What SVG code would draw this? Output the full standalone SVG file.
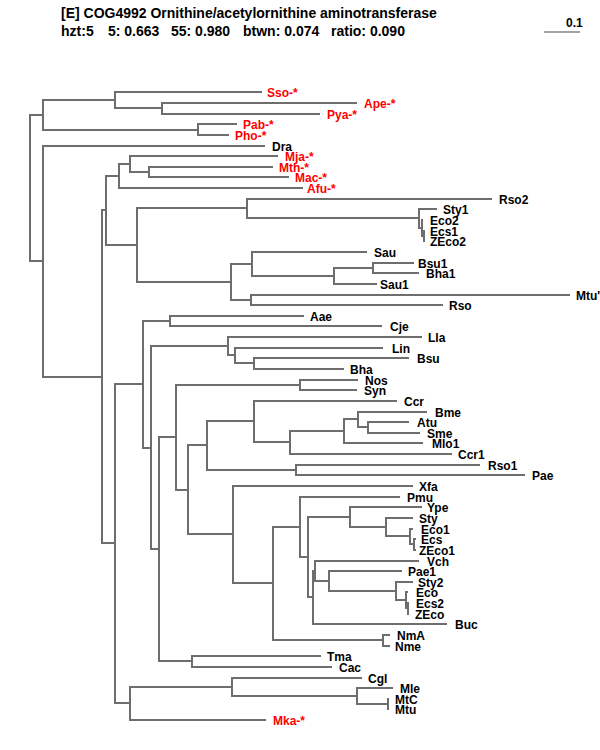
<svg xmlns="http://www.w3.org/2000/svg" width="600" height="750" viewBox="0 0 600 750">
<style>
text{font-family:"Liberation Sans",Arial,Helvetica,sans-serif;font-weight:bold;font-size:12px;fill:#000}
.h{font-size:14px}
.r{fill:#ff0000}
#connectors path{fill:none;stroke:#6e6e6e;stroke-width:2}
</style>
<rect width="600" height="750" fill="#fff"/>
<g id="header">
<text class="h" x="61" y="18">[E] COG4992 Ornithine/acetylornithine aminotransferase</text>
<text class="h" x="61" y="36">hzt:5</text>
<text class="h" x="108" y="36">5: 0.663</text>
<text class="h" x="171" y="36">55: 0.980</text>
<text class="h" x="243" y="36">btwn: 0.074</text>
<text class="h" x="331" y="36">ratio: 0.090</text>
</g>
<g id="scalebar">
<text x="566" y="27">0.1</text>
<path d="M544 32 H580" stroke="#444" stroke-width="1.2" fill="none"/>
</g>
<g id="connectors">
<path d="M43 115 H30 V261 H43"/>
<path d="M115 100 H43 V130 H198"/>
<path d="M262 92 H115 V108 H162"/>
<path d="M357 103 H162 V114 H320"/>
<path d="M237 124 H198 V135 H229"/>
<path d="M265 146 H43 V377 H102"/>
<path d="M106 210 H102 V543 H115"/>
<path d="M119 176 H106 V245 H137"/>
<path d="M130 164 H119 V188 H303"/>
<path d="M278 156 H130 V172 H149"/>
<path d="M273 167 H149 V177 H289"/>
<path d="M247 208 H137 V282 H231"/>
<path d="M492 199 H247 V218 H419"/>
<path d="M437 209 H419 V228 H422"/>
<path d="M423 220 H422 V236 H424"/>
<path d="M425 231 H424 V241 H425"/>
<path d="M252 264 H231 V300 H251"/>
<path d="M367 252 H252 V276 H334"/>
<path d="M373 268 H334 V284 H377"/>
<path d="M414 263 H373 V273 H419"/>
<path d="M570 295 H251 V305 H443"/>
<path d="M143 384 H115 V703 H130"/>
<path d="M170 321 H143 V448 H151"/>
<path d="M304 316 H170 V326 H382"/>
<path d="M228 346 H151 V549 H159"/>
<path d="M422 337 H228 V355 H235"/>
<path d="M383 348 H235 V363 H254"/>
<path d="M409 358 H254 V369 H344"/>
<path d="M176 437 H159 V661 H192"/>
<path d="M321 656 H192 V667 H332"/>
<path d="M300 385 H176 V490 H188"/>
<path d="M358 380 H300 V390 H357"/>
<path d="M207 445 H188 V534 H233"/>
<path d="M254 421 H207 V470 H296"/>
<path d="M397 401 H254 V442 H290"/>
<path d="M344 431 H290 V454 H452"/>
<path d="M358 419 H344 V443 H423"/>
<path d="M427 412 H358 V427 H368"/>
<path d="M409 422 H368 V433 H420"/>
<path d="M480 465 H296 V475 H525"/>
<path d="M413 486 H233 V583 H273"/>
<path d="M300 527 H273 V640 H383"/>
<path d="M390 635 H383 V646 H390"/>
<path d="M400 497 H300 V557 H308"/>
<path d="M350 517 H308 V597 H313"/>
<path d="M422 507 H350 V527 H386"/>
<path d="M413 518 H386 V536 H410"/>
<path d="M413 529 H410 V544 H414"/>
<path d="M416 539 H414 V550 H416"/>
<path d="M315 571 H313 V624 H447"/>
<path d="M419 561 H315 V581 H329"/>
<path d="M402 571 H329 V591 H396"/>
<path d="M413 582 H396 V600 H406"/>
<path d="M408 592 H406 V608 H408"/>
<path d="M409 603 H408 V614 H409"/>
<path d="M232 687 H130 V720 H266"/>
<path d="M362 678 H232 V696 H357"/>
<path d="M393 688 H357 V704 H388"/>
<path d="M389 699 H388 V709 H389"/>
</g>
<g id="leaf-Sso"><text class="r" x="267" y="97">Sso-*</text></g>
<g id="leaf-Ape"><text class="r" x="364" y="108">Ape-*</text></g>
<g id="leaf-Pya"><text class="r" x="327" y="119">Pya-*</text></g>
<g id="leaf-Pab"><text class="r" x="243" y="129">Pab-*</text></g>
<g id="leaf-Pho"><text class="r" x="235" y="140">Pho-*</text></g>
<g id="leaf-Dra"><text x="272" y="151">Dra</text></g>
<g id="leaf-Mja"><text class="r" x="285" y="161">Mja-*</text></g>
<g id="leaf-Mth"><text class="r" x="279" y="172">Mth-*</text></g>
<g id="leaf-Mac"><text class="r" x="295" y="182">Mac-*</text></g>
<g id="leaf-Afu"><text class="r" x="307" y="193">Afu-*</text></g>
<g id="leaf-Rso2"><text x="499" y="204">Rso2</text></g>
<g id="leaf-Sty1"><text x="443" y="214">Sty1</text></g>
<g id="leaf-Eco2"><text x="430" y="225">Eco2</text></g>
<g id="leaf-Ecs1"><text x="430" y="236">Ecs1</text></g>
<g id="leaf-ZEco2"><text x="430" y="246">ZEco2</text></g>
<g id="leaf-Sau"><text x="374" y="257">Sau</text></g>
<g id="leaf-Bsu1"><text x="418" y="268">Bsu1</text></g>
<g id="leaf-Bha1"><text x="426" y="278">Bha1</text></g>
<g id="leaf-Sau1"><text x="380" y="289">Sau1</text></g>
<g id="leaf-Mtu1"><text x="576" y="300">Mtu'</text></g>
<g id="leaf-Rso"><text x="449" y="310">Rso</text></g>
<g id="leaf-Aae"><text x="310" y="321">Aae</text></g>
<g id="leaf-Cje"><text x="390" y="331">Cje</text></g>
<g id="leaf-Lla"><text x="428" y="342">Lla</text></g>
<g id="leaf-Lin"><text x="392" y="353">Lin</text></g>
<g id="leaf-Bsu"><text x="417" y="363">Bsu</text></g>
<g id="leaf-Bha"><text x="350" y="374">Bha</text></g>
<g id="leaf-Nos"><text x="365" y="385">Nos</text></g>
<g id="leaf-Syn"><text x="364" y="395">Syn</text></g>
<g id="leaf-Ccr"><text x="404" y="406">Ccr</text></g>
<g id="leaf-Bme"><text x="435" y="417">Bme</text></g>
<g id="leaf-Atu"><text x="417" y="427">Atu</text></g>
<g id="leaf-Sme"><text x="427" y="438">Sme</text></g>
<g id="leaf-Mlo1"><text x="432" y="448">Mlo1</text></g>
<g id="leaf-Ccr1"><text x="458" y="459">Ccr1</text></g>
<g id="leaf-Rso1"><text x="488" y="470">Rso1</text></g>
<g id="leaf-Pae"><text x="532" y="480">Pae</text></g>
<g id="leaf-Xfa"><text x="419" y="491">Xfa</text></g>
<g id="leaf-Pmu"><text x="407" y="502">Pmu</text></g>
<g id="leaf-Ype"><text x="427" y="512">Ype</text></g>
<g id="leaf-Sty"><text x="419" y="523">Sty</text></g>
<g id="leaf-Eco1"><text x="421" y="534">Eco1</text></g>
<g id="leaf-Ecs"><text x="421" y="544">Ecs</text></g>
<g id="leaf-ZEco1"><text x="419" y="555">ZEco1</text></g>
<g id="leaf-Vch"><text x="427" y="566">Vch</text></g>
<g id="leaf-Pae1"><text x="408" y="576">Pae1</text></g>
<g id="leaf-Sty2"><text x="418" y="587">Sty2</text></g>
<g id="leaf-Eco"><text x="416" y="597">Eco</text></g>
<g id="leaf-Ecs2"><text x="416" y="608">Ecs2</text></g>
<g id="leaf-ZEco"><text x="415" y="619">ZEco</text></g>
<g id="leaf-Buc"><text x="455" y="629">Buc</text></g>
<g id="leaf-NmA"><text x="397" y="640">NmA</text></g>
<g id="leaf-Nme"><text x="395" y="651">Nme</text></g>
<g id="leaf-Tma"><text x="327" y="661">Tma</text></g>
<g id="leaf-Cac"><text x="339" y="672">Cac</text></g>
<g id="leaf-Cgl"><text x="368" y="683">Cgl</text></g>
<g id="leaf-Mle"><text x="400" y="693">Mle</text></g>
<g id="leaf-MtC"><text x="395" y="704">MtC</text></g>
<g id="leaf-Mtu"><text x="395" y="714">Mtu</text></g>
<g id="leaf-Mka"><text class="r" x="273" y="725">Mka-*</text></g>
</svg>
